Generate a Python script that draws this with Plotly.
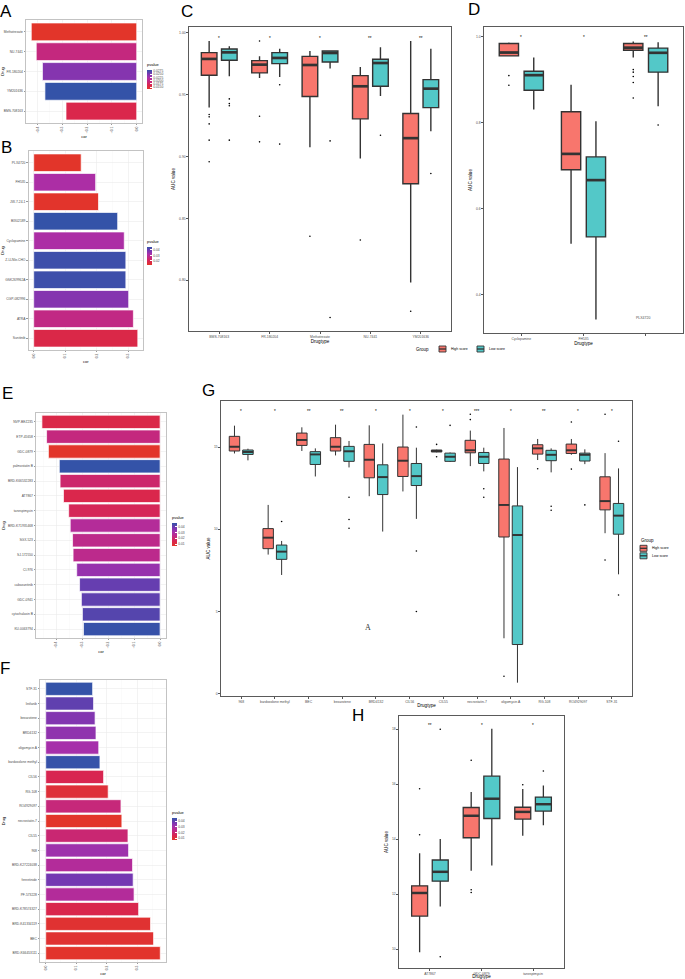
import plotly.graph_objects as go

W, H = 685, 979
def fx(p): return p / W
def fy(p): return 1 - p / H

FONT = "Liberation Sans, Arial, sans-serif"
TXT = "#4D4D4D"
HIGH = "#F8766D"
LOW = "#53C8C8"
EDGE = "#333333"
CS = [[0, '#E2352A'], [0.2, '#D9264E'], [0.4, '#C4287F'], [0.6, '#A92FAA'], [0.8, '#7438B2'], [1, '#3453A8']]

# ---------------- data ----------------
a_drugs = ["Methotrexate", "NU-7441", "FR-180204", "YM201636", "BMS-708163"]
a_cor = [-0.425, -0.405, -0.38, -0.37, -0.285]
a_pval = [0.0137, 0.0194, 0.0243, 0.0281, 0.0164]

b_drugs = ["PLX4720", "FH535", "JW-7-24-1", "BIX02189", "Cyclopamine", "Z-LLNle-CHO",
           "GSK269962A", "CGP-082996", "ATRA", "Sunitinib"]
b_cor = [0.151, 0.197, 0.206, 0.267, 0.288, 0.293, 0.293, 0.302, 0.317, 0.331]
b_pval = [0.0127, 0.0314, 0.0130, 0.0450, 0.0314, 0.0440, 0.0440, 0.0365, 0.0263, 0.0181]

e_drugs = ["NVP-BEZ235", "ETP-45658", "GDC-0879", "palmostatin B", "BRD-K66532283", "AT7867",
           "tanespimycin", "BRD-K71935468", "SGX-523", "SJ-172550", "CI-976", "cabozantinib",
           "GDC-0941", "cytochalasin B", "KU-0063794"]
e_cor = [-0.455, -0.437, -0.430, -0.388, -0.385, -0.372, -0.352, -0.346, -0.337, -0.335,
         -0.321, -0.310, -0.303, -0.299, -0.295]
e_pval = [0.0134, 0.0224, 0.0068, 0.0462, 0.0195, 0.0142, 0.0163, 0.0273, 0.0245, 0.0249,
          0.0331, 0.0400, 0.0409, 0.0421, 0.0458]

f_drugs = ["STF-31", "linifanib", "bexarotene", "BRD4132", "oligomycin A", "bardoxolone methyl",
           "CIL56", "RG-108", "RO4929097", "necrostatin-7", "CIL55", "968", "BRD-K27224038",
           "fenretinide", "PF-573228", "BRD-K78574327", "BRD-K41334119", "BEC", "BRD-K66453111"]
f_cor = [0.154, 0.157, 0.162, 0.165, 0.174, 0.178, 0.190, 0.205, 0.247, 0.250, 0.270, 0.272,
         0.285, 0.287, 0.290, 0.305, 0.344, 0.354, 0.376]
f_pval = [0.0458, 0.0404, 0.0359, 0.0339, 0.0306, 0.0454, 0.0150, 0.0101, 0.0216, 0.0068,
          0.0204, 0.0318, 0.0273, 0.0380, 0.0273, 0.0142, 0.0085, 0.0085, 0.0072]

# box stats per drug: [lower whisker, q1, median, q3, upper whisker]
c_drugs = ["BMS-708163", "FR-180204", "Methotrexate", "NU-7441", "YM201636"]
c_sig = ["*", "*", "*", "**", "**"]
c_high = [[0.9395, 0.9656, 0.9788, 0.9839, 0.9933], [0.9634, 0.9675, 0.9742, 0.9774, 0.9809],
          [0.9075, 0.9484, 0.9739, 0.9809, 0.9852], [0.8984, 0.9304, 0.9567, 0.9653, 0.9723],
          [0.7981, 0.8780, 0.9148, 0.9347, 0.9933]]
c_low = [[0.9648, 0.9777, 0.9841, 0.9868, 0.9890], [0.9642, 0.9750, 0.9796, 0.9839, 0.9871],
         [0.9710, 0.9763, 0.9836, 0.9852, 0.9856], [0.9489, 0.9567, 0.9755, 0.9785, 0.9882],
         [0.9204, 0.9395, 0.9548, 0.9621, 0.9871]]
c_high_out = [[0.9339, 0.9320, 0.9263, 0.9132, 0.8957], [0.9933, 0.9325, 0.9118], [0.8355], [0.8325], [0.7750]]
c_low_out = [[0.9465, 0.9427, 0.9410, 0.9132], [0.9580, 0.9100], [0.9126, 0.7699], [0.9172], [0.8863]]

d_drugs = ["Cyclopamine", "FH535", ""]
d_sig = ["*", "*", "**"]
d_high = [[0.9558, 0.9558, 0.9636, 0.9845, 0.9868], [0.519, 0.691, 0.728, 0.826, 0.889],
          [0.952, 0.969, 0.975, 0.9845, 0.989]]
d_low = [[0.831, 0.876, 0.911, 0.920, 0.952], [0.343, 0.535, 0.667, 0.721, 0.804],
         [0.839, 0.918, 0.963, 0.974, 0.9876]]
d_high_out = [[0.910, 0.8876], [], [0.924, 0.918, 0.908, 0.894, 0.858]]
d_low_out = [[], [], [0.795]]

g_drugs = ["968", "bardoxolone methyl", "BEC", "bexarotene", "BRD4132", "CIL56", "CIL55",
           "necrostatin-7", "oligomycin A", "RG-108", "RO4929097", "STF-31"]
g_sig = ["*", "*", "**", "**", "*", "*", "*", "***", "*", "**", "*", "*"]
g_high = [[14.61, 14.76, 15.02, 15.65, 16.30], [8.46, 8.82, 9.49, 10.04, 11.48],
          [14.76, 15.10, 15.43, 15.85, 16.20], [14.49, 14.76, 15.02, 15.57, 16.36],
          [12.01, 13.13, 14.23, 15.16, 16.32], [12.30, 13.21, 14.17, 15.00, 16.97],
          [14.68, 14.70, 14.76, 14.82, 14.84], [13.84, 14.65, 14.80, 15.41, 16.00],
          [3.37, 9.53, 11.48, 14.27, 16.16], [14.21, 14.57, 14.92, 15.14, 15.49],
          [14.53, 14.61, 14.80, 15.18, 15.49], [9.76, 11.18, 11.71, 13.19, 14.63]]
g_low = [[14.19, 14.55, 14.70, 14.82, 14.90], [7.22, 8.17, 8.64, 9.04, 9.29],
         [13.21, 13.94, 14.55, 14.72, 14.92], [13.76, 14.13, 14.74, 15.04, 15.37],
         [9.86, 12.11, 13.17, 13.92, 15.22], [10.63, 12.66, 13.23, 14.00, 14.96],
         [14.09, 14.13, 14.41, 14.63, 14.67], [13.52, 14.00, 14.41, 14.67, 14.96],
         [0.67, 2.99, 9.65, 11.42, 13.78], [13.46, 14.17, 14.53, 14.80, 14.92],
         [13.96, 14.15, 14.53, 14.63, 14.86], [7.26, 9.70, 10.83, 11.57, 13.70]]
g_high_out = [[], [], [], [], [], [], [15.16, 14.41], [16.99, 16.67], [1.06], [13.68], [16.52, 13.66], [16.99, 8.13]]
g_low_out = [[], [10.47], [], [11.95, 10.59, 10.06], [], [16.22, 8.68, 5.0], [16.32], [12.46, 11.95],
             [], [11.40, 11.16], [11.48], [15.35, 6.0]]

h_drugs = ["AT7867", "GDC-0879", "tanespimycin"]
h_sig = ["**", "*", "*"]
h_high = [[9.88, 11.20, 12.04, 12.30, 13.49], [12.85, 14.05, 14.85, 15.15, 15.71],
          [14.12, 14.73, 14.99, 15.16, 15.82]]
h_low = [[11.55, 12.47, 12.81, 13.24, 14.00], [13.04, 14.75, 15.47, 16.29, 18.02],
         [14.50, 15.02, 15.27, 15.53, 15.95]]
h_high_out = [[15.83, 14.16], [16.87, 12.16, 12.06], [15.98]]
h_low_out = [[18.00, 9.72], [], [16.48]]

group_names = ["High score", "Low score"]

fig = go.Figure()
annotations = []
shapes = []


def axname(n):
    return ("x" if n == 1 else f"x{n}"), ("y" if n == 1 else f"y{n}")


def layname(n):
    return ("xaxis" if n == 1 else f"xaxis{n}"), ("yaxis" if n == 1 else f"yaxis{n}")


def bar_panel(n, drugs, cor, pval, dom, cb, tick_dtick, cb_tick0, cb_dtick, cb_fmt):
    xa, ya = axname(n)
    lx, ly = layname(n)
    cb_x, cb_top, cb_len = cb
    fig.add_trace(go.Bar(
        x=cor, y=list(range(len(drugs))), orientation='h', width=0.9,
        xaxis=xa, yaxis=ya, showlegend=False, hoverinfo='skip',
        marker=dict(color=pval, colorscale=CS, cmin=min(pval), cmax=max(pval),
                    line=dict(color='white', width=0.7), showscale=True,
                    colorbar=dict(x=fx(cb_x), xanchor='left', y=fy(cb_top), yanchor='top',
                                  len=cb_len, lenmode='pixels', thickness=5, thicknessmode='pixels',
                                  xpad=0, ypad=0, outlinewidth=0, ticks='inside', ticklen=2,
                                  tickcolor='white', tickmode='linear', tick0=cb_tick0, dtick=cb_dtick,
                                  tickformat=cb_fmt,
                                  tickfont=dict(size=3.3, color=TXT, family=FONT),
                                  title=dict(text='pvalue', side='top', font=dict(size=4, color='black', family=FONT))))))
    lo = min(0, min(cor)); hi = max(0, max(cor)); pad = (hi - lo) * 0.05
    fig.layout[lx] = dict(domain=[fx(dom[0]), fx(dom[1])], anchor=ya, range=[lo - pad, hi + pad],
                          tickmode='linear', tick0=0, dtick=tick_dtick, tickformat='.1f', tickangle=-90,
                          tickfont=dict(size=3.3, color=TXT, family=FONT), ticks='outside', ticklen=1.5,
                          tickcolor='#999999', showgrid=True, gridcolor='#EBEBEB', gridwidth=0.6,
                          minor=dict(dtick=tick_dtick / 2, showgrid=True, gridcolor='#F4F4F4', gridwidth=0.4),
                          zeroline=False, showline=True, mirror=True, linecolor='#BDBDBD', linewidth=0.9,
                          title=dict(text='cor', font=dict(size=4, color='black', family=FONT), standoff=2))
    nb = len(drugs)
    fig.layout[ly] = dict(domain=[fy(dom[3]), fy(dom[2])], anchor=xa, range=[nb - 0.4, -0.6],
                          tickmode='array', tickvals=list(range(nb)), ticktext=drugs,
                          tickfont=dict(size=3.3, color=TXT, family=FONT), ticks='outside', ticklen=1.5,
                          tickcolor='#999999', showgrid=True, gridcolor='#EBEBEB', gridwidth=0.6,
                          zeroline=False, showline=True, mirror=True, linecolor='#BDBDBD', linewidth=0.9,
                          title=dict(text='Drug', font=dict(size=4, color='black', family=FONT), standoff=2))


bar_panel(1, a_drugs, a_cor, a_pval, (26, 142, 20, 123), (147, 60, 29), 0.1, 0.015, 0.0025, '.4f')
bar_panel(2, b_drugs, b_cor, b_pval, (28.5, 143, 151, 350), (147, 237, 28), 0.1, 0.02, 0.01, '.2f')
bar_panel(5, e_drugs, e_cor, e_pval, (36, 166, 413, 638), (172, 513, 33), 0.1, 0.01, 0.01, '.2f')
bar_panel(6, f_drugs, f_cor, f_pval, (40, 166, 680, 962), (172, 808, 32), 0.1, 0.01, 0.01, '.2f')

DODGE = 0.2
BOXW = 0.31


def box_panel(n, drugs, sig, high, low, high_out, low_out, dom, yr, ytick0, ydtick, yfmt, lw,
              star_y, title_standoff=1):
    xa, ya = axname(n)
    lx, ly = layname(n)
    for stats, outs, off, col, name in ((high, high_out, -DODGE, HIGH, group_names[0]),
                                        (low, low_out, DODGE, LOW, group_names[1])):
        xs = [i + 1 + off for i in range(len(drugs))]
        fig.add_trace(go.Box(
            x=xs, lowerfence=[s[0] for s in stats], q1=[s[1] for s in stats],
            median=[s[2] for s in stats], q3=[s[3] for s in stats], upperfence=[s[4] for s in stats],
            fillcolor=col, line=dict(color=EDGE, width=lw), width=BOXW, whiskerwidth=0,
            boxpoints=False, name=name, showlegend=False, xaxis=xa, yaxis=ya, hoverinfo='skip'))
        # thicker median bar, as in ggplot
        mx, my = [], []
        for i, s in enumerate(stats):
            mx += [xs[i] - BOXW / 2, xs[i] + BOXW / 2, None]
            my += [s[2], s[2], None]
        fig.add_trace(go.Scatter(x=mx, y=my, mode='lines', line=dict(color=EDGE, width=lw * 1.9),
                                 showlegend=False, xaxis=xa, yaxis=ya, hoverinfo='skip'))
        ox, oy = [], []
        for i, pts in enumerate(outs):
            for v in pts:
                ox.append(xs[i]); oy.append(v)
        fig.add_trace(go.Scatter(x=ox, y=oy, mode='markers', marker=dict(size=1.6, color='black'),
                                 showlegend=False, xaxis=xa, yaxis=ya, hoverinfo='skip'))
    for i, s in enumerate(sig):
        annotations.append(dict(x=i + 1, y=star_y, xref=xa, yref=ya, text=s, showarrow=False,
                                font=dict(size=4.5, color='black', family=FONT), yanchor='middle'))
    nd = len(drugs)
    fig.layout[lx] = dict(domain=[fx(dom[0]), fx(dom[1])], anchor=ya, range=[0.4, nd + 0.6],
                          tickmode='array', tickvals=list(range(1, nd + 1)), ticktext=drugs,
                          tickfont=dict(size=3.4, color=TXT, family=FONT), ticks='outside', ticklen=1.5,
                          tickcolor='#555555', showgrid=False, zeroline=False, showline=True, mirror=True,
                          linecolor='#5A5A5A', linewidth=1.1,
                          title=dict(text='Drugtype', font=dict(size=4.6, color='black', family=FONT),
                                     standoff=title_standoff))
    fig.layout[ly] = dict(domain=[fy(dom[3]), fy(dom[2])], anchor=xa, range=yr,
                          tickmode='linear', tick0=ytick0, dtick=ydtick, tickformat=yfmt,
                          tickfont=dict(size=3.4, color=TXT, family=FONT), ticks='outside', ticklen=1.5,
                          tickcolor='#555555', showgrid=False, zeroline=False, showline=True, mirror=True,
                          linecolor='#5A5A5A', linewidth=1.1,
                          title=dict(text='AUC value', font=dict(size=4.6, color='black', family=FONT), standoff=3))


box_panel(3, c_drugs, c_sig, c_high, c_low, c_high_out, c_low_out, (189, 451, 27, 331),
          [0.759, 1.0046], 0.8, 0.05, '.2f', 1.4, 0.9957)
box_panel(4, d_drugs, d_sig, d_high, d_low, d_high_out, d_low_out, (484, 683, 27, 333),
          [0.3116, 1.023], 0.4, 0.2, '.1f', 1.4, 0.998)
box_panel(7, g_drugs, g_sig, g_high, g_low, g_high_out, g_low_out, (221, 632, 401, 696),
          [-0.14, 17.8], 0, 5, 'd', 1.0, 17.15)
box_panel(8, h_drugs, h_sig, h_high, h_low, h_high_out, h_low_out, (399, 564, 716, 968),
          [9.31, 18.48], 10, 2, 'd', 1.3, 18.15, title_standoff=0)


def legend_key(x0, y_mid, color, label, w=7, h=6):
    shapes.append(dict(type='rect', xref='paper', yref='paper', x0=fx(x0), x1=fx(x0 + w),
                       y0=fy(y_mid + h / 2), y1=fy(y_mid - h / 2), fillcolor=color,
                       line=dict(color=EDGE, width=0.9)))
    shapes.append(dict(type='line', xref='paper', yref='paper', x0=fx(x0), x1=fx(x0 + w),
                       y0=fy(y_mid), y1=fy(y_mid), line=dict(color=EDGE, width=1.3)))
    annotations.append(dict(x=fx(x0 + w + 2.5), y=fy(y_mid), xref='paper', yref='paper', text=label,
                            showarrow=False, xanchor='left', yanchor='middle',
                            font=dict(size=3.5, color='black', family=FONT)))


# legend of panels C/D (horizontal)
annotations.append(dict(x=fx(422), y=fy(349), xref='paper', yref='paper', text='Group', showarrow=False,
                        xanchor='center', yanchor='middle', font=dict(size=4.5, color='black', family=FONT)))
legend_key(439, 349, HIGH, group_names[0])
legend_key(477, 349, LOW, group_names[1])
# legend of panel G (vertical)
annotations.append(dict(x=fx(639), y=fy(540), xref='paper', yref='paper', text='Group', showarrow=False,
                        xanchor='left', yanchor='middle', font=dict(size=4.5, color='black', family=FONT)))
legend_key(640, 548.3, HIGH, group_names[0])
legend_key(640, 555.8, LOW, group_names[1])

# panel letters
for letter, x, y in (("A", 6, 12), ("B", 6, 148), ("C", 187, 11), ("D", 474, 10),
                     ("E", 7, 393), ("F", 5, 668), ("G", 208, 390), ("H", 358, 715)):
    annotations.append(dict(x=fx(x), y=fy(y), xref='paper', yref='paper', text=letter, showarrow=False,
                            xanchor='center', yanchor='middle',
                            font=dict(size=17, color='black', family=FONT)))

annotations.append(dict(x=fx(652), y=fy(314), xref='paper', yref='paper', text='PLX4720', showarrow=False,
                        font=dict(size=3.5, color=TXT, family=FONT)))
annotations.append(dict(x=fx(368), y=fy(627), xref='paper', yref='paper', text='A', showarrow=False,
                        font=dict(size=8, color='#333333', family='Liberation Serif, serif')))

fig.update_layout(
    width=W, height=H, margin=dict(l=0, r=0, t=0, b=0), autosize=False,
    paper_bgcolor='white', plot_bgcolor='white', font=dict(family=FONT),
    annotations=annotations, shapes=shapes, boxmode='overlay', showlegend=False,
)

fig.write_html("out.html", config={'displayModeBar': False, 'staticPlot': True},
               post_script="document.body.style.margin='0';document.body.style.overflow='hidden';")
